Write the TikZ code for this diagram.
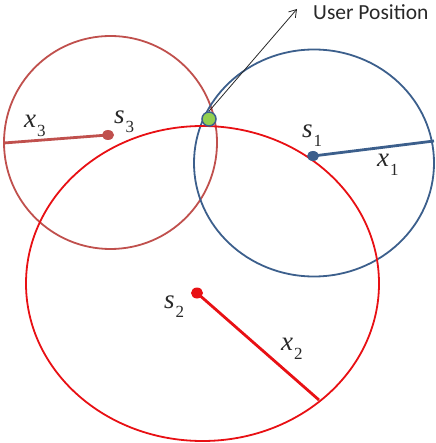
\documentclass[tikz,border=0pt]{standalone}
\usepackage{fontspec}
\setmainfont{Liberation Serif}
\newfontfamily\uifont{Carlito}
\usetikzlibrary{arrows.meta}
\definecolor{brownred}{RGB}{192,80,77}
\definecolor{steelblue}{RGB}{60,95,140}
\definecolor{brightred}{RGB}{232,16,20}
\definecolor{dotgreen}{RGB}{146,208,80}
\definecolor{txtgray}{RGB}{40,40,40}
\newcommand\vlab[2]{{\fontsize{27}{27}\selectfont\itshape #1}\kern1pt\raisebox{-9pt}{\fontsize{17}{17}\selectfont #2}}
\tikzset{
  ring/.style={line width=1.8pt},
  radius line/.style={line width=2.8pt},
  lbl/.style={anchor=base west, inner sep=0pt, text=txtgray},
}
\begin{document}
\begin{tikzpicture}[x=1pt,y=-1pt]
\useasboundingbox (0,0) rectangle (435,443);
% centres
\coordinate (c3) at (110.5,142.5);
\coordinate (c1) at (314,163);
\coordinate (c2) at (202.5,283.5);
% circles
\draw[ring, brownred] (c3) circle [radius=106.5];
\draw[ring, steelblue] (c1) ellipse [x radius=120, y radius=113.5];
\draw[ring, brightred] (c2) ellipse [x radius=176.5, y radius=157.5];
% radius lines
\coordinate (s3) at (108,135);
\coordinate (e3) at (4,143);
\coordinate (s1) at (313,156);
\coordinate (e1) at (434,141);
\coordinate (s2) at (197,293);
\coordinate (e2) at (319,400);
\draw[radius line, brownred] (s3) -- (e3);
\draw[radius line, steelblue] (s1) -- (e1);
\draw[radius line, brightred] (s2) -- (e2);
\fill[brownred] (s3) ellipse [x radius=6, y radius=5];
\fill[steelblue] (s1) ellipse [x radius=6, y radius=5];
\fill[brightred] (s2) ellipse [x radius=6, y radius=5.5];
% user position
\node[circle, draw=steelblue, line width=1.5pt, fill=dotgreen, minimum size=14pt, inner sep=0pt] (up) at (209,119) {};
\coordinate (tip) at (297,9);
\draw[txtgray, line width=0.8pt, -{Straight Barb[length=7pt,width=9pt]}] (up.north) -- (tip);
\node[lbl, font=\uifont\fontsize{21.5}{21.5}\selectfont] (uplabel) at (313,20) {User Position};
% labels
\node[lbl] (ls3) at (114,124) {\vlab{s}{3}};
\node[lbl] (lx3) at (24,128) {\vlab{x}{3}};
\node[lbl] (ls1) at (302,138) {\vlab{s}{1}};
\node[lbl] (lx1) at (377,167) {\vlab{x}{1}};
\node[lbl] (ls2) at (164,308) {\vlab{s}{2}};
\node[lbl] (lx2) at (281,350) {\vlab{x}{2}};
\end{tikzpicture}
\end{document}
